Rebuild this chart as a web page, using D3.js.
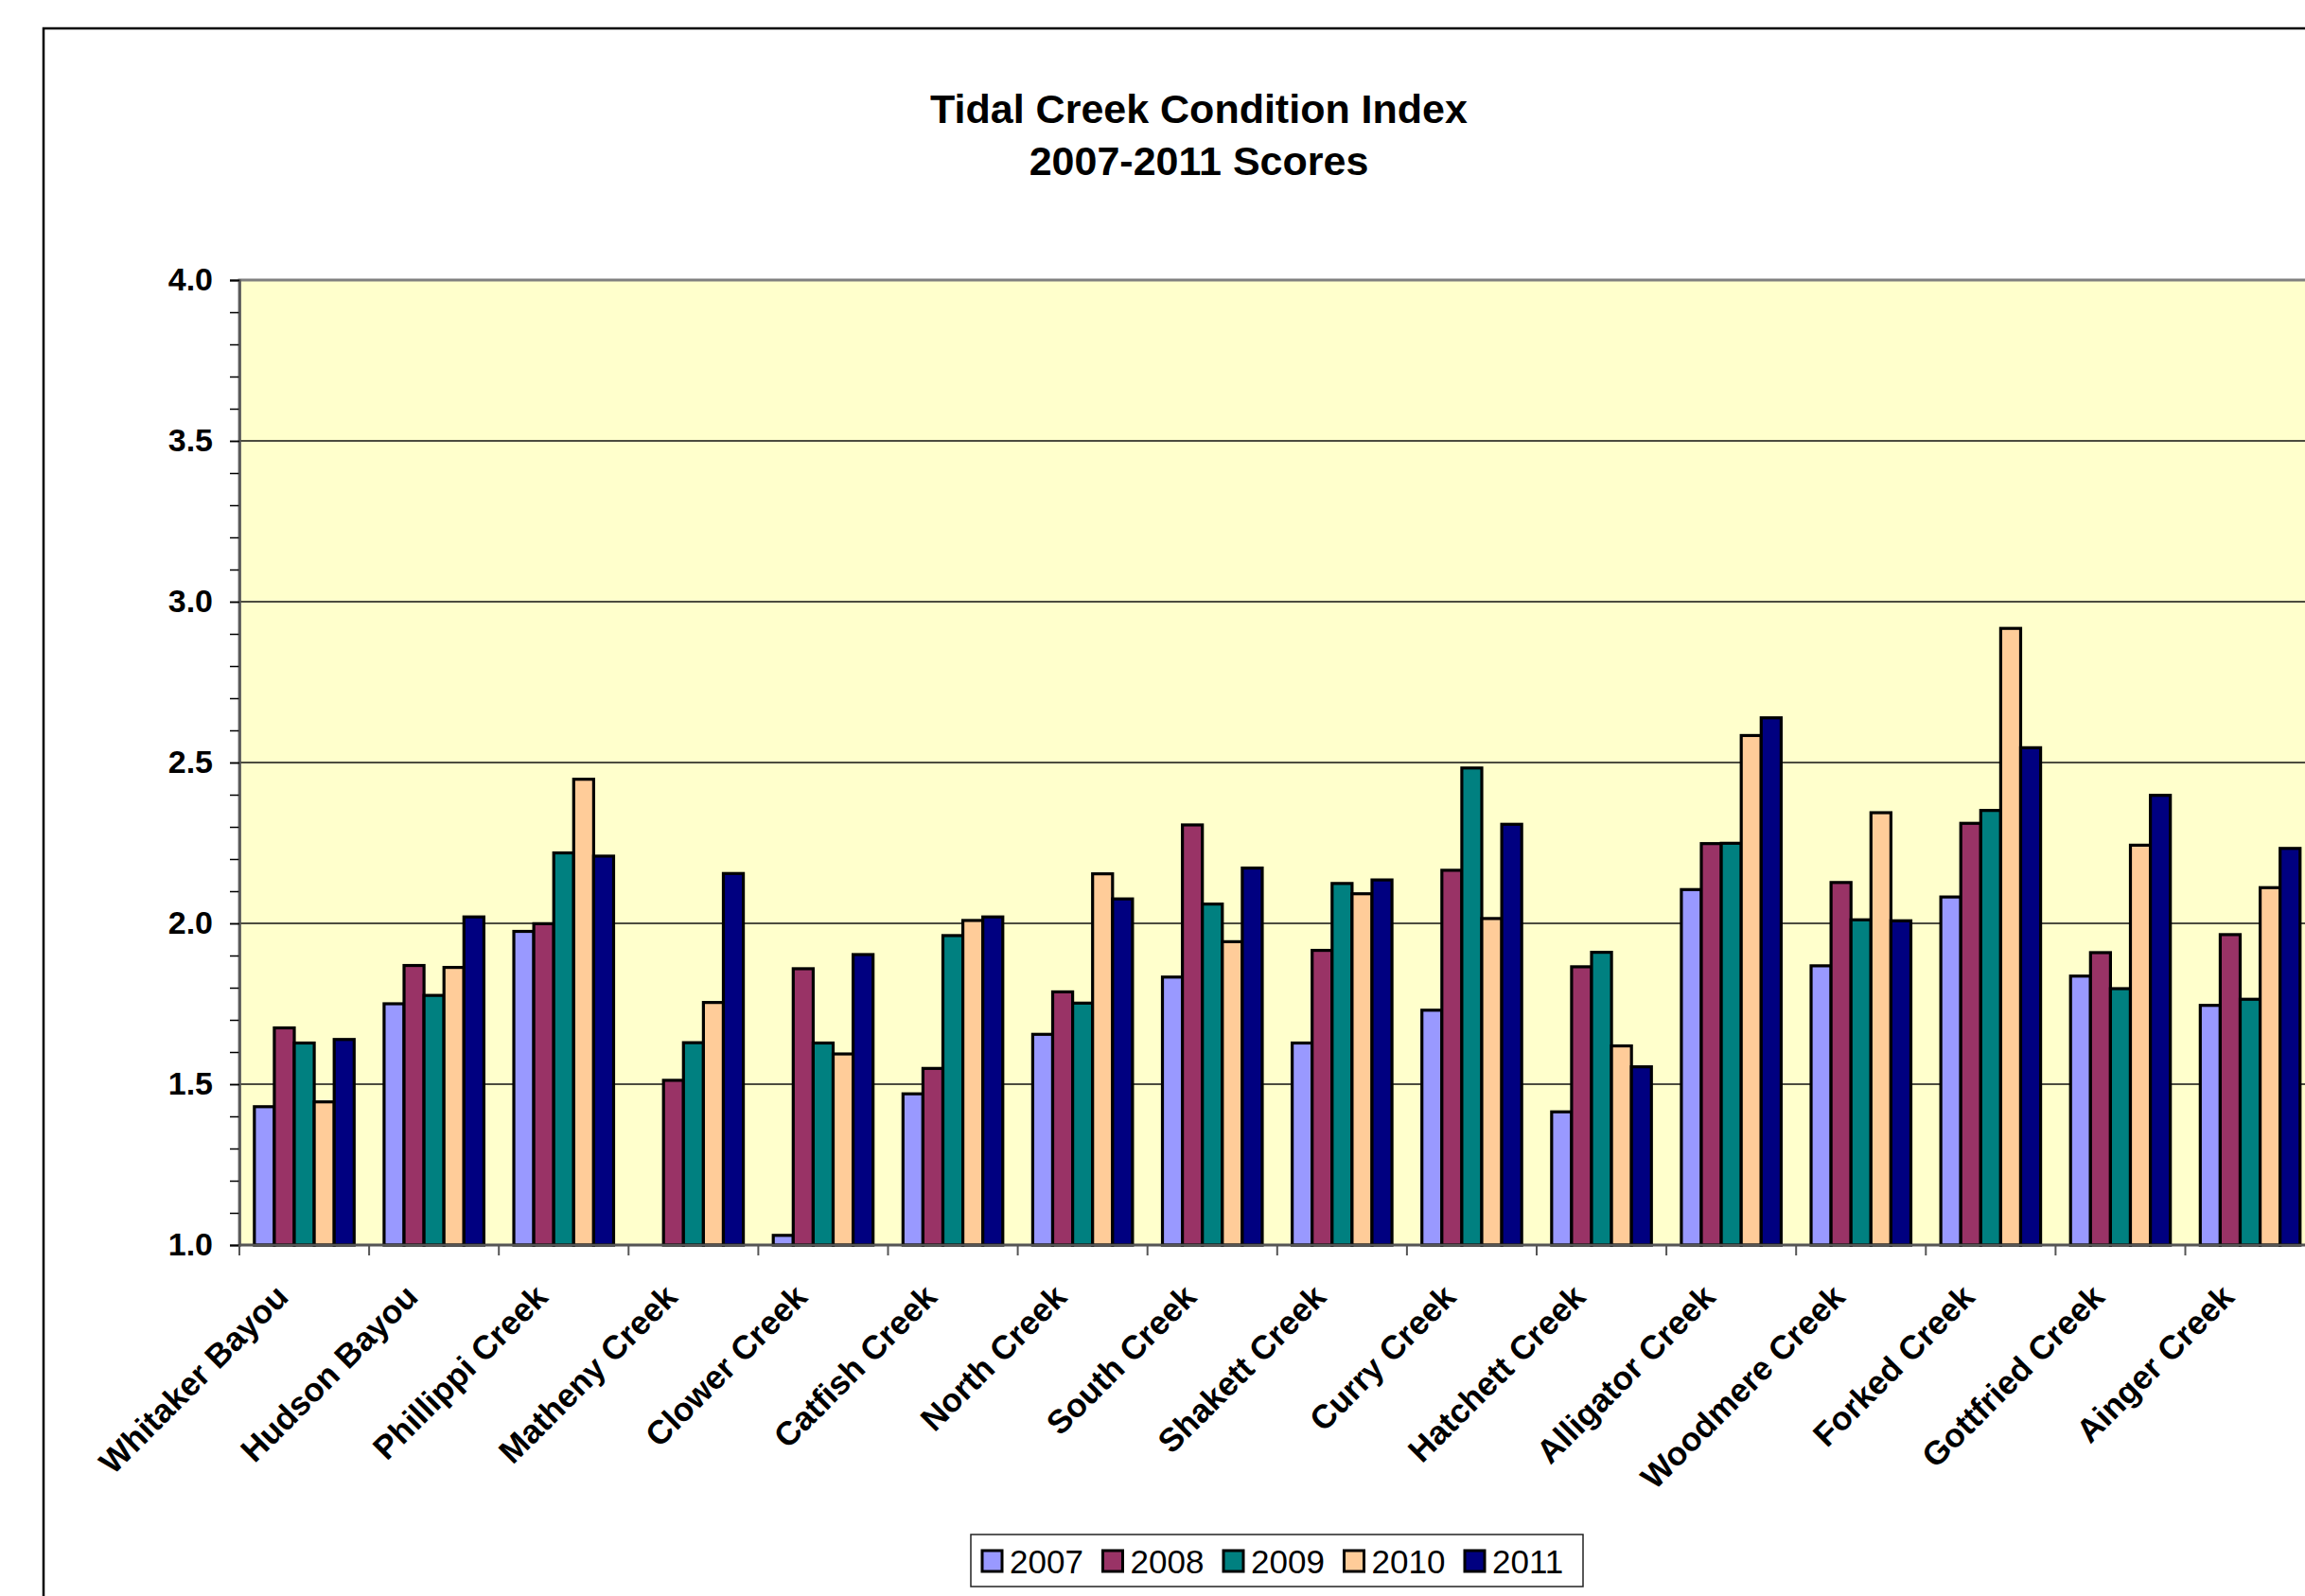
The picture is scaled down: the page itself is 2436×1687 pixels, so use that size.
<!DOCTYPE html>
<html>
<head>
<meta charset="utf-8">
<script src="https://cdn.jsdelivr.net/npm/d3@7"></script>
<style>
  html, body { margin: 0; padding: 0; background: #fff; overflow: hidden; }
  text { font-family: "Liberation Sans", Arial, sans-serif; }
</style>
</head>
<body>
<div id="chart"></div>
<script>
// Tidal creek condition index, grouped bars by year

const creeks = ["Whitaker Bayou", "Hudson Bayou", "Phillippi Creek", "Matheny Creek",
  "Clower Creek", "Catfish Creek", "North Creek", "South Creek", "Shakett Creek",
  "Curry Creek", "Hatchett Creek", "Alligator Creek", "Woodmere Creek",
  "Forked Creek", "Gottfried Creek", "Ainger Creek"];
const years = ["2007", "2008", "2009", "2010", "2011"];

const scores2007 = [1.43, 1.75, 1.975, null, 1.03, 1.47, 1.655, 1.833, 1.628, 1.73, 1.414, 2.105, 1.868, 2.082, 1.836, 1.745];
const scores2008 = [1.675, 1.869, 1.999, 1.512, 1.859, 1.549, 1.787, 2.306, 1.916, 2.165, 1.865, 2.248, 2.127, 2.311, 1.909, 1.965];
const scores2009 = [1.628, 1.776, 2.219, 1.629, 1.628, 1.962, 1.752, 2.06, 2.124, 2.483, 1.91, 2.249, 2.011, 2.351, 1.797, 1.764];
const scores2010 = [1.445, 1.863, 2.448, 1.754, 1.594, 2.009, 2.154, 1.943, 2.092, 2.015, 1.619, 2.584, 2.344, 2.917, 2.243, 2.111];
const scores2011 = [1.639, 2.02, 2.209, 2.155, 1.903, 2.02, 2.076, 2.172, 2.135, 2.308, 1.554, 2.639, 2.008, 2.546, 2.398, 2.233];

const yTicks = [1.0, 1.5, 2.0, 2.5, 3.0, 3.5, 4.0];

const seriesByYear = [scores2007, scores2008, scores2009, scores2010, scores2011];

const width = 2436;
const height = 1687;

const svg = d3.select("#chart")
  .append("svg")
  .attr("width", width)
  .attr("height", height);

// plot area (runs past the right edge of the picture)
const plotLeft = 253;
const plotTop = 296;
const plotBottom = 1316;
const bandW = 137.1;
const plotRight = plotLeft + creeks.length * bandW;

const color = d3.scaleOrdinal()
  .domain(years)
  .range(["#9999ff", "#993366", "#008080", "#ffcc99", "#000080"]);

const x0 = d3.scaleBand()
  .domain(creeks)
  .range([plotLeft, plotRight])
  .padding(0);

// gap width 150% -> 0.75 bar width each side
const gapHalf = x0.bandwidth() * 0.75 / 6.5;
const x1 = d3.scaleBand()
  .domain(years)
  .range([gapHalf, x0.bandwidth() - gapHalf])
  .padding(0);

const y = d3.scaleLinear()
  .domain([1, 4])
  .range([plotBottom, plotTop]);

// chart area border
svg.append("rect")
  .attr("x", 46)
  .attr("y", 30)
  .attr("width", 2600)
  .attr("height", 1800)
  .attr("fill", "#fff")
  .attr("stroke", "#000")
  .attr("stroke-width", 2.5);

// title
const title = svg.append("text")
  .attr("x", 1267)
  .attr("text-anchor", "middle")
  .attr("font-size", "43px")
  .attr("font-weight", "bold");
title.append("tspan").attr("x", 1267).attr("y", 130).text("Tidal Creek Condition Index");
title.append("tspan").attr("x", 1267).attr("y", 185).text("2007-2011 Scores");

// plot background
svg.append("rect")
  .attr("x", plotLeft)
  .attr("y", plotTop)
  .attr("width", plotRight - plotLeft)
  .attr("height", plotBottom - plotTop)
  .attr("fill", "#ffffcc")
  .attr("stroke", "#808080")
  .attr("stroke-width", 3);

// gridlines
svg.selectAll(".grid")
  .data(yTicks.filter(d => d > 1 && d < 4))
  .enter()
  .append("line")
  .attr("class", "grid")
  .attr("x1", plotLeft)
  .attr("x2", plotRight)
  .attr("y1", d => y(d))
  .attr("y2", d => y(d))
  .attr("stroke", "#111")
  .attr("stroke-width", 1.3);

// bars
const groups = svg.selectAll(".creek")
  .data(creeks)
  .enter()
  .append("g")
  .attr("class", "creek")
  .attr("transform", d => `translate(${x0(d)},0)`);

groups.selectAll("rect")
  .data((d, i) => years.map((yr, k) => ({ year: yr, value: seriesByYear[k][i] })))
  .enter()
  .filter(d => d.value != null)
  .append("rect")
  .attr("x", d => x1(d.year))
  .attr("y", d => y(d.value))
  .attr("width", x1.bandwidth())
  .attr("height", d => y(1) - y(d.value))
  .attr("fill", d => color(d.year))
  .attr("stroke", "#000")
  .attr("stroke-width", 3.2);

// y axis: major ticks with labels, minor ticks every 0.1
const minorTicks = d3.range(10, 41).map(v => v / 10);
svg.append("g")
  .attr("transform", `translate(${plotLeft},0)`)
  .call(d3.axisLeft(y).tickValues(minorTicks).tickSize(10).tickFormat(""))
  .call(g => g.select(".domain").remove())
  .call(g => g.selectAll("line").attr("stroke", "#000").attr("stroke-width", 1.5));

svg.append("g")
  .attr("transform", `translate(${plotLeft},0)`)
  .call(d3.axisLeft(y).tickValues(yTicks).tickSize(10).tickPadding(18).tickFormat(d3.format(".1f")))
  .call(g => g.select(".domain").attr("stroke", "#555").attr("stroke-width", 2.5))
  .call(g => g.selectAll("line").attr("stroke", "#000").attr("stroke-width", 1.5))
  .call(g => g.selectAll("text")
    .attr("font-size", "34px")
    .attr("font-weight", "bold")
    .attr("font-family", "'Liberation Sans', Arial, sans-serif")
    .attr("fill", "#000"));

// x axis line and boundary ticks
svg.append("line")
  .attr("x1", plotLeft)
  .attr("x2", plotRight)
  .attr("y1", plotBottom)
  .attr("y2", plotBottom)
  .attr("stroke", "#555")
  .attr("stroke-width", 2.5);

svg.selectAll(".xtick")
  .data(creeks)
  .enter()
  .append("line")
  .attr("class", "xtick")
  .attr("x1", d => x0(d))
  .attr("x2", d => x0(d))
  .attr("y1", plotBottom)
  .attr("y2", plotBottom + 11)
  .attr("stroke", "#555")
  .attr("stroke-width", 2);

// rotated category labels
svg.selectAll(".xlabel")
  .data(creeks)
  .enter()
  .append("text")
  .attr("class", "xlabel")
  .attr("text-anchor", "end")
  .attr("font-size", "35px")
  .attr("font-weight", "bold")
  .attr("transform", d => `translate(${x0(d) + x0.bandwidth() / 2 - 15},${plotBottom + 57}) rotate(-45)`)
  .text(d => d);

// legend
const legend = svg.append("g");
legend.append("rect")
  .attr("x", 1026)
  .attr("y", 1622)
  .attr("width", 647)
  .attr("height", 55)
  .attr("fill", "#fff")
  .attr("stroke", "#222")
  .attr("stroke-width", 1.5);

const legendItems = legend.selectAll(".legend-item")
  .data(years)
  .enter()
  .append("g")
  .attr("class", "legend-item")
  .attr("transform", (d, i) => `translate(${1038 + i * 127.5},1639)`);

legendItems.append("rect")
  .attr("width", 21)
  .attr("height", 22)
  .attr("fill", d => color(d))
  .attr("stroke", "#000")
  .attr("stroke-width", 3);

legendItems.append("text")
  .attr("x", 29)
  .attr("y", 24)
  .attr("font-size", "35px")
  .text(d => d);
</script>
</body>
</html>
